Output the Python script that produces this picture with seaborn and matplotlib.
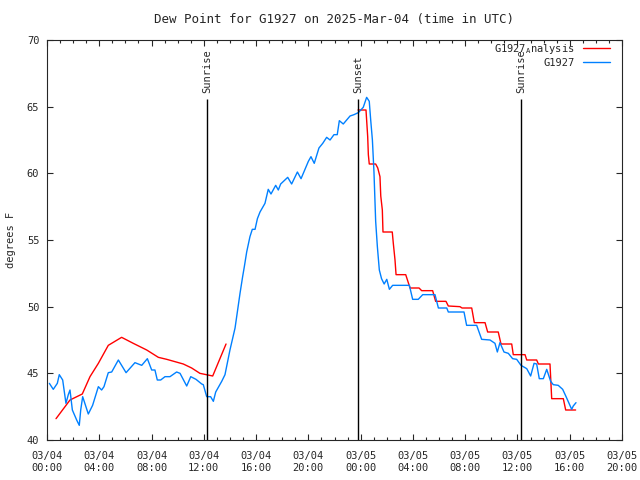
import numpy as np
import pandas as pd
import matplotlib
matplotlib.use("Agg")
import matplotlib.pyplot as plt
import seaborn as sns

# hours since 03/04 00:00 UTC
blue_hours = [0.18, 0.48, 0.79, 0.94, 1.2, 1.45, 1.63, 1.76, 1.94, 2.27, 2.47, 2.58, 2.73,
              3.16, 3.49, 3.93, 4.18, 4.36, 4.69, 4.95, 5.46, 6.05, 6.73, 7.25, 7.68,
              8.01, 8.26, 8.44, 8.7, 9.03, 9.41, 9.92, 10.18, 10.69, 11.0, 11.4, 11.84,
              11.96, 12.22, 12.52, 12.73, 12.91, 13.37, 13.62, 14.0, 14.39, 14.59, 14.77,
              14.97, 15.1, 15.28, 15.53, 15.71, 15.92, 16.1, 16.3, 16.68, 16.93, 17.14,
              17.5, 17.7, 17.88, 18.42, 18.72, 19.16, 19.44, 20.0, 20.2, 20.45, 20.81,
              21.1, 21.4, 21.66, 21.96, 22.21, 22.37, 22.67, 23.19, 23.49, 23.82, 24.2,
              24.46, 24.66, 24.77, 24.9, 25.02, 25.15, 25.28, 25.43, 25.6, 25.8, 26.0,
              26.2, 26.45, 27.73, 27.98, 28.41, 28.75, 29.69, 29.95, 30.59, 30.71, 31.91,
              32.11, 32.88, 33.26, 33.9, 34.28, 34.46, 34.66, 34.97, 35.3, 35.63, 35.94,
              36.27, 36.71, 37.01, 37.27, 37.47, 37.67, 37.98, 38.24, 38.54, 38.74,
              39.12, 39.46, 39.72, 40.15, 40.27, 40.48]
blue_values = [44.25, 43.8, 44.25, 44.9, 44.5, 42.75, 43.4, 43.75, 42.25, 41.5, 41.1, 42.25, 43.25,
               41.95, 42.6, 44.0, 43.75, 44.0, 45.05, 45.1, 46.0, 45.05, 45.8, 45.6, 46.1,
               45.25, 45.25, 44.5, 44.5, 44.75, 44.75, 45.1, 45.0, 44.05, 44.75, 44.55, 44.2,
               44.15, 43.25, 43.25, 42.9, 43.6, 44.4, 44.9, 46.75, 48.4, 49.75, 51.0,
               52.25, 53.0, 54.1, 55.25, 55.8, 55.8, 56.6, 57.1, 57.75, 58.8, 58.45,
               59.1, 58.75, 59.2, 59.7, 59.2, 60.1, 59.6, 60.9, 61.25, 60.75, 61.9,
               62.25, 62.7, 62.5, 62.9, 62.9, 63.95, 63.7, 64.3, 64.4, 64.55, 64.95,
               65.7, 65.4, 64.0, 62.5, 60.1, 56.4, 54.5, 52.75, 52.1, 51.7, 52.05,
               51.3, 51.6, 51.6, 50.55, 50.55, 50.9, 50.9, 49.9, 49.9, 49.6, 49.6,
               48.6, 48.6, 47.55, 47.5, 47.25, 46.6, 47.3, 46.6, 46.5, 46.1, 46.05,
               45.6, 45.35, 44.8, 45.75, 45.7, 44.6, 44.6, 45.3, 44.4, 44.15,
               44.1, 43.8, 43.25, 42.3, 42.55, 42.8]

# analysis: morning part, then a gap, then the evening/night part
red_am_hours = [0.69, 1.76, 2.7, 3.29, 3.93, 4.69, 5.71, 6.6, 7.63, 8.52, 9.16, 10.43,
                11.07, 11.7, 12.68, 13.7]
red_am_values = [41.6, 43.0, 43.45, 44.75, 45.75, 47.1, 47.7, 47.25, 46.75, 46.2, 46.05, 45.7,
                 45.4, 45.0, 44.8, 47.2]
red_pm_hours = [23.8, 24.41, 24.54, 24.59, 24.66, 25.15, 25.31, 25.48, 25.54, 25.66, 25.71,
                26.42, 26.5, 26.63, 26.71, 27.45, 27.78, 28.47, 28.67, 29.51, 29.74, 30.53,
                30.71, 31.6, 31.76, 32.5, 32.7, 33.52, 33.72, 34.53, 34.74, 35.56, 35.68,
                36.58, 36.71, 37.47, 37.6, 38.49, 38.62, 39.51, 39.69, 40.45]
red_pm_values = [64.75, 64.75, 62.75, 61.4, 60.7, 60.7, 60.4, 59.75, 58.3, 57.25, 55.6,
                 55.6, 54.75, 53.5, 52.4, 52.4, 51.4, 51.4, 51.2, 51.2, 50.4, 50.4,
                 50.05, 50.0, 49.9, 49.9, 48.8, 48.8, 48.1, 48.1, 47.2, 47.2, 46.4,
                 46.4, 46.0, 46.0, 45.7, 45.7, 43.1, 43.1, 42.25, 42.25]

sun_hours = [12.26, 23.82, 36.27]
sun_labels = ["Sunrise", "Sunset", "Sunrise"]

tick_hours = list(range(0, 45, 4))
tick_labels = ["03/04\n00:00", "03/04\n04:00", "03/04\n08:00", "03/04\n12:00",
               "03/04\n16:00", "03/04\n20:00", "03/05\n00:00", "03/05\n04:00",
               "03/05\n08:00", "03/05\n12:00", "03/05\n16:00", "03/05\n20:00"]

sns.set_style("ticks")
plt.rcParams['font.family'] = ['DejaVu Sans Mono']
plt.rcParams['font.size'] = 7.5

fig = plt.figure(figsize=(6.4, 4.8), dpi=100)
ax = fig.add_axes([47 / 640, 40 / 480, 575 / 640, 400 / 480])

blue_df = pd.DataFrame({"hour": blue_hours, "dew": blue_values})
red_am = pd.DataFrame({"hour": red_am_hours, "dew": red_am_values})
red_pm = pd.DataFrame({"hour": red_pm_hours, "dew": red_pm_values})

red = "#ff0000"
blue = "#0080ff"
sns.lineplot(data=red_am, x="hour", y="dew", ax=ax, color=red, lw=1,
             estimator=None, sort=False, label="G1927$_{\\mathregular{A}}$nalysis")
sns.lineplot(data=red_pm, x="hour", y="dew", ax=ax, color=red, lw=1,
             estimator=None, sort=False)
sns.lineplot(data=blue_df, x="hour", y="dew", ax=ax, color=blue, lw=1,
             estimator=None, sort=False, label="G1927")

ax.vlines(sun_hours, 40, 65.55, color="black", lw=1)
for h, lab in zip(sun_hours, sun_labels):
    ax.text(h, 66.05, lab, rotation=90, ha="center", va="bottom")

ax.set_xlim(0, 44)
ax.set_ylim(40, 70)
ax.set_xticks(tick_hours)
ax.set_xticklabels(tick_labels)
ax.set_xticks(range(0, 45), minor=True)
ax.set_yticks(range(40, 71, 5))
ax.tick_params(which="both", direction="in", top=True, right=True, width=0.8)
ax.tick_params(which="major", length=4.5)
ax.tick_params(which="minor", length=2.3)
ax.tick_params(axis="x", which="major", pad=8)
ax.tick_params(axis="y", which="major", pad=5.5)
ax.set_xlabel("")
ax.set_ylabel("degrees F", labelpad=8)
for s in ax.spines.values():
    s.set_linewidth(0.8)
ax.set_title("Dew Point for G1927 on 2025-Mar-04 (time in UTC)", pad=12.5)

ax.legend(loc="upper right", bbox_to_anchor=(1 - 12 / 575, 1 - 2 / 400),
          frameon=False, markerfirst=False, handlelength=2.6,
          handletextpad=0.75, labelspacing=0.2, borderaxespad=0, borderpad=0)

fig.savefig("out.png", dpi=100)
